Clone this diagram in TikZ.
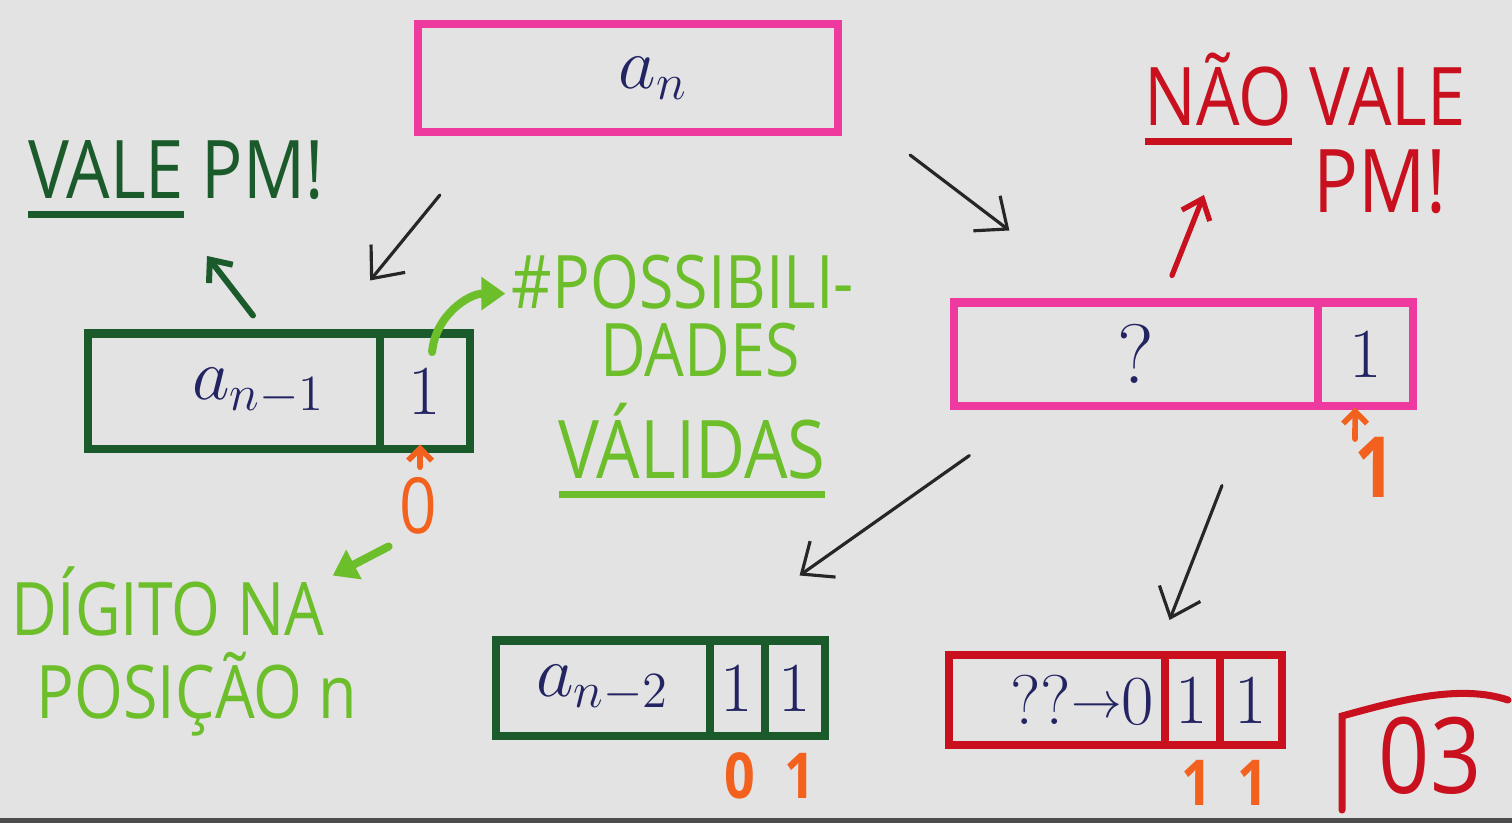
\documentclass[tikz,border=0pt]{standalone}
\usepackage{fontspec}
\newfontfamily\hand{Open Sans}
\usepackage{xcolor}
\usepackage{tikz}
\usetikzlibrary{arrows.meta,positioning}
\definecolor{paper}{HTML}{E3E3E3}
\definecolor{mkpink}{HTML}{EE3A9E}
\definecolor{dkgreen}{HTML}{1B5A2A}
\definecolor{lime}{HTML}{6DBE2B}
\definecolor{ink}{HTML}{232462}
\definecolor{pmred}{HTML}{C8101E}
\definecolor{orng}{HTML}{F2611E}
% thick marker underline
\newcommand{\markul}[1]{\setbox0=\hbox{#1}\rlap{\rule[-0.25em]{\wd0}{0.09em}}\box0\relax}

\begin{document}
\begin{tikzpicture}[x=0.01cm,y=-0.01cm,
    box/.style={draw, line width=2.3pt, rectangle, outer sep=0pt, inner sep=0pt,
      text=ink, font=\fontsize{20}{24}\selectfont},
    lbl/.style={inner sep=0pt, anchor=base, xscale=0.85, font=\hand\fontsize{#1}{#1}\selectfont},
    lbl/.default=23,
    blkarrow/.style={-{Straight Barb[length=2.6mm,width=4.4mm]}, line width=0.9pt, black!85, line cap=round},
    grnarrow/.style={-{Straight Barb[length=1.8mm,width=3mm]}, line width=1.7pt, dkgreen, line cap=round},
    limearrow/.style={-{Triangle[length=2.4mm,width=3.2mm]}, line width=2.3pt, lime, line cap=round},
    redarrow/.style={-{Straight Barb[length=1.8mm,width=3mm]}, line width=1.5pt, pmred, line cap=round},
    orarrow/.style={-{Straight Barb[length=1.2mm,width=2.4mm]}, line width=1.6pt, orng, line cap=round}]
      \fill[paper] (0,0) rectangle (1512,823);
      \useasboundingbox (0,0) rectangle (1512,823);
      \fill[black!70] (0,818) rectangle (1512,823);

      % boxes
      \node[box, draw=mkpink, minimum width=4.2cm, minimum height=1.08cm] (an) at (628,78) {\hspace{5mm}$a_n$};
      \node[box, draw=dkgreen, minimum width=2.92cm, minimum height=1.15cm] (anm1) at (234,391) {\hspace{5mm}$a_{n-1}$};
      \node[box, draw=dkgreen, minimum width=0.9cm, minimum height=1.15cm, right=0pt of anm1] (c1) {1};
      \node[box, draw=mkpink, minimum width=3.63cm, minimum height=1.03cm] (qbox) at (1136,354) {\fontsize{24}{28}\selectfont ?};
      \node[box, draw=mkpink, minimum width=0.95cm, minimum height=1.03cm, right=0pt of qbox] (qc) {1};
      \node[box, draw=dkgreen, minimum width=2.13cm, minimum height=0.95cm] (an2) at (603,688) {$a_{n-2}$};
      \node[box, draw=dkgreen, minimum width=0.55cm, minimum height=0.95cm, right=0pt of an2] (c21) {1};
      \node[box, draw=dkgreen, minimum width=0.6cm, minimum height=0.95cm, right=0pt of c21] (c22) {1};
      \node[box, draw=pmred, minimum width=2.15cm, minimum height=0.9cm] (rbox) at (1057,700) {\hspace{5mm}??{\fontsize{15}{15}\selectfont\raisebox{2pt}{$\to$}}0};
      \node[box, draw=pmred, minimum width=0.55cm, minimum height=0.9cm, right=0pt of rbox] (rc1) {1};
      \node[box, draw=pmred, minimum width=0.62cm, minimum height=0.9cm, right=0pt of rc1] (rc2) {1};

      % labels
      \node[lbl, text=dkgreen] (vale) at (176,198) {\markul{VALE} PM!};
      \node[lbl=23, text=pmred] (nao) at (1305,125) {\markul{NÃO} VALE};
      \node[lbl=25, text=pmred] (pm) at (1380,212) {PM!};
      \node[lbl=21, text=lime] (poss) at (683,308) {\#POSSIBILI-};
      \node[lbl=21, text=lime] (dades) at (700,376) {DADES};
      \node[lbl=23, text=lime] (valid) at (692,478) {\markul{VÁLIDAS}};
      \node[lbl=21, text=lime] (dig1) at (168,635) {DÍGITO NA};
      \node[lbl=21, text=lime] (dig2) at (197,718) {POSIÇÃO n};
      \node[lbl=22, text=orng] (zero) at (418,533) {0};
      \node[lbl=24, text=orng] (one) at (1375,497) {\bfseries 1};
      \node[lbl=18, text=orng] (o0) at (740,798) {\bfseries 0};
      \node[lbl=18, text=orng] (o1) at (800,798) {\bfseries 1};
      \node[lbl=18, text=orng] (r1) at (1197,805) {\bfseries 1};
      \node[lbl=18, text=orng] (r2) at (1253,805) {\bfseries 1};
      \node[lbl=30, text=pmred] (pg) at (1430,793) {03};
      \draw[pmred, line width=2pt, line cap=round] (1342,810) -- (1342,716)
      .. controls (1400,700) and (1460,684) .. (1508,700);

      % connectors
      \draw[blkarrow] ([shift={(22,63)}]an.south west) -- ([shift={(-10,-53)}]anm1.north east);
      \draw[blkarrow] ([shift={(72,23)}]an.south east) -- ([shift={(55,-72)}]qbox.north west);
      \draw[blkarrow] ([shift={(15,50)}]qbox.south west) -- ([shift={(90,-65)}]an2.north east);
      \draw[blkarrow] ([shift={(86,80)}]qbox.south) -- ([shift={(5,-35)}]rbox.north east);
      \draw[grnarrow] ([shift={(19,-18)}]anm1.north) -- ([shift={(31,37)}]vale.south);
      \draw[limearrow] ([shift={(7,-39)}]c1.center) to[out=85,in=180] ([shift={(-6,12)}]poss.west);
      \draw[orarrow] ([shift={(2,-9)}]zero.north) -- ([shift={(-5,-4)}]c1.south);
      \draw[limearrow] ([shift={(-10,12)}]zero.south west) -- ([shift={(8,10)}]dig1.north east);
      \draw[redarrow] ([shift={(36,-27)}]qbox.north) -- ([shift={(60,49)}]nao.south west);
      \draw[orarrow] ([shift={(-20,3)}]one.north) -- ([shift={(-10,2)}]qc.south);
    \end{tikzpicture}
\end{document}
